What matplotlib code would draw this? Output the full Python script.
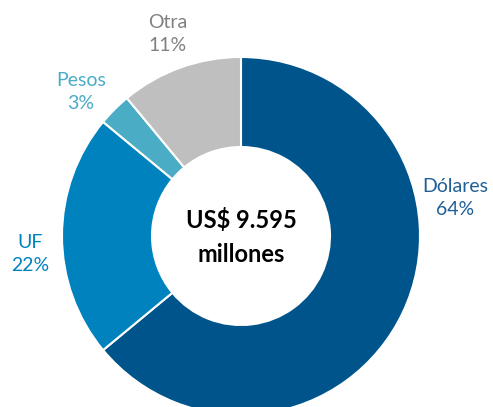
import matplotlib.pyplot as plt

# Data
labels = ['Dólares', 'UF', 'Pesos', 'Otra']
shares = [64, 22, 3, 11]
colors = ['#00548C', '#0082BF', '#4BACC6', '#BFBFBF']
total_text = 'US$ 9.595\nmillones'

plt.rcParams['font.family'] = ['Lato', 'DejaVu Sans']

fig = plt.figure(figsize=(4.93, 4.07), dpi=100)
ax = fig.add_axes([0, 0, 1, 1])

# donut, clockwise from the top
wedges, _ = ax.pie(shares, colors=colors, startangle=90, counterclock=False,
                   radius=179, center=(0, 0),
                   wedgeprops=dict(width=90, edgecolor='white', linewidth=1.5))

# labels placed around the ring (pixel-like coordinates, center at 0,0)
label_pos = {
    'Dólares': (214, 38),
    'UF': (-211, -18),
    'Pesos': (-160, 144),
    'Otra': (-73, 202),
}
for name, val, col in zip(labels, shares, colors):
    x, y = label_pos[name]
    tcol = '#808080' if name == 'Otra' else col
    if name == 'Dólares':
        tcol = '#1F5F96'
    ax.text(x, y, f'{name}\n{val}%', ha='center', va='center', color=tcol,
            fontsize=14, linespacing=1.45)

ax.text(0, -1, total_text, ha='center', va='center', fontsize=17,
        fontweight='bold', color='black', linespacing=1.55)

ax.set_xlim(-241, 252)
ax.set_ylim(-171, 236)
ax.set_aspect('equal')
ax.axis('off')

fig.savefig('out.png', dpi=100)
